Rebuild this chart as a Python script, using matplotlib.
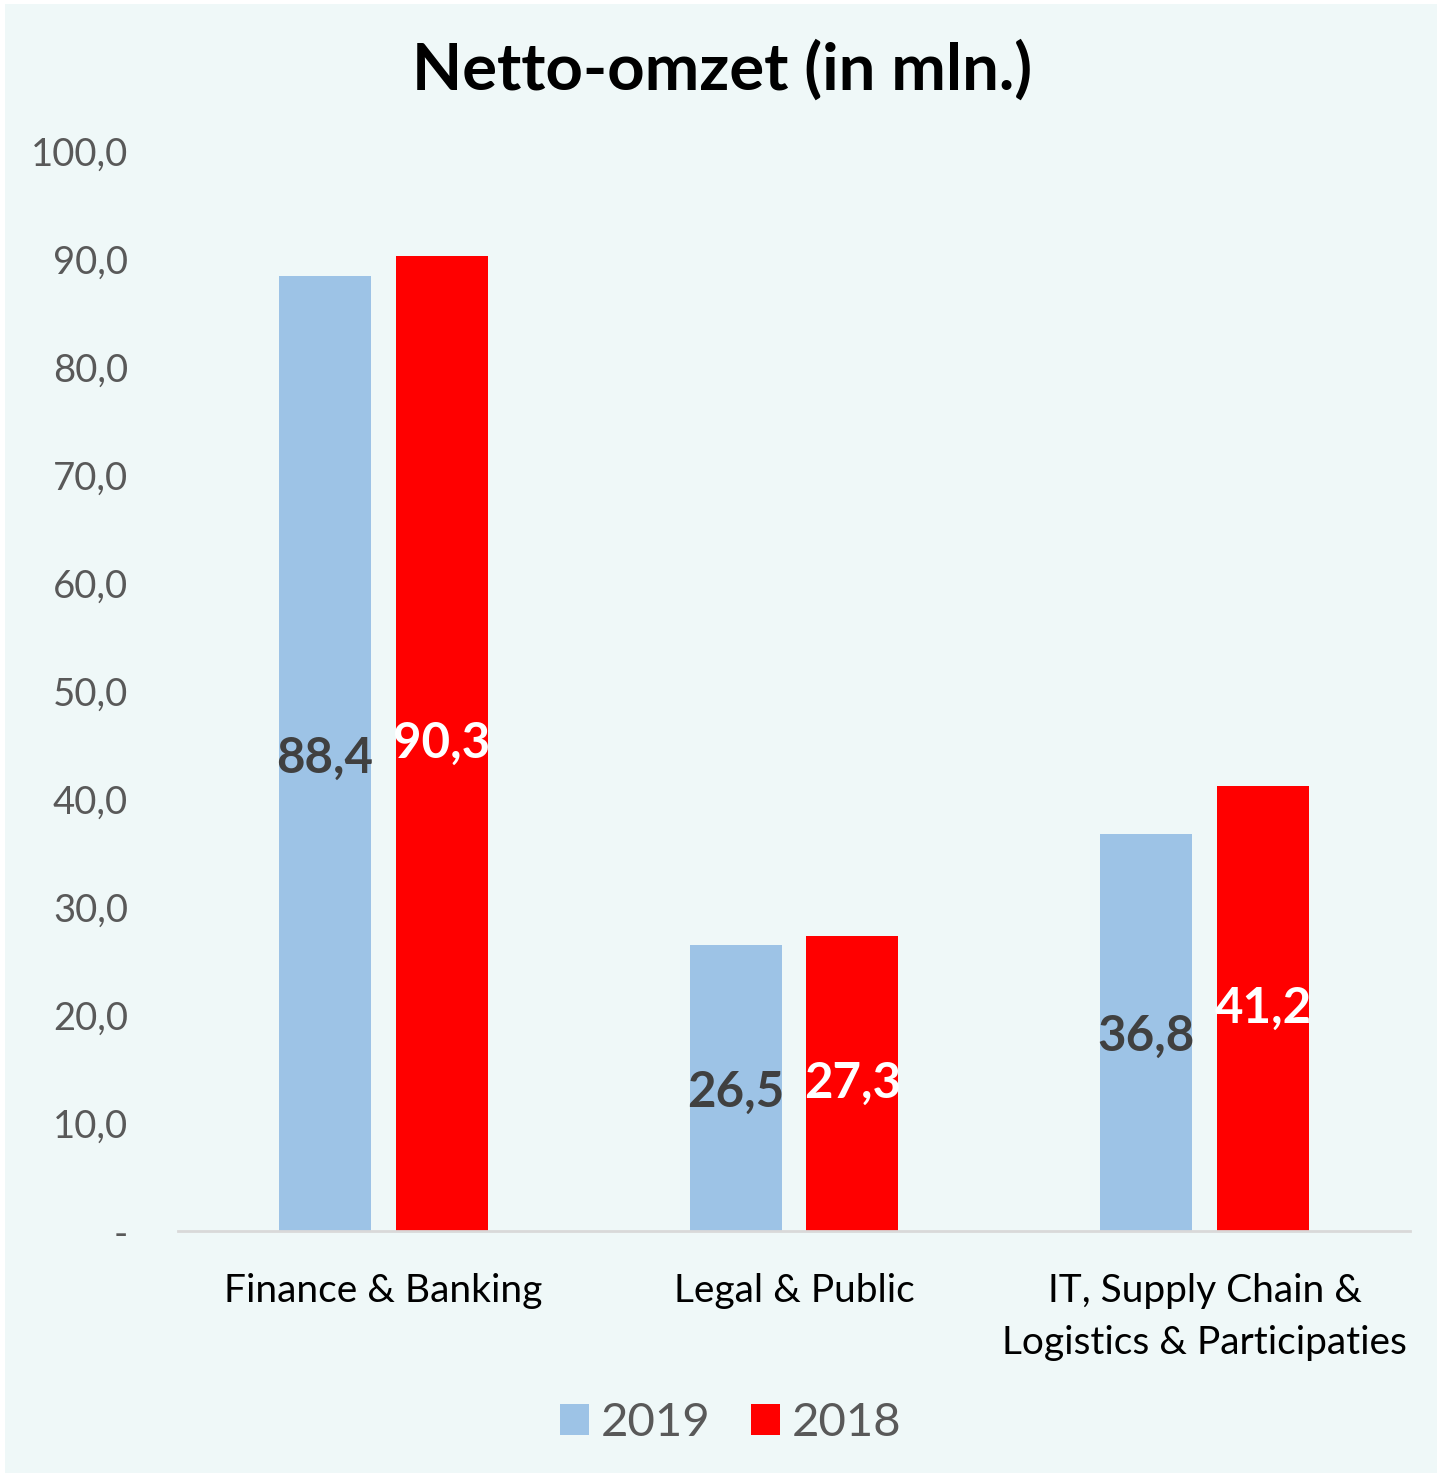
import numpy as np
import matplotlib.pyplot as plt
from matplotlib.patches import Rectangle, Patch

plt.rcParams['font.family'] = ['Lato', 'DejaVu Sans']

categories = ["Finance & Banking", "Legal & Public", "IT, Supply Chain &\nLogistics & Participaties"]
omzet_2019 = [88.4, 26.5, 36.8]
omzet_2018 = [90.3, 27.3, 41.2]
years = ["2019", "2018"]
yticks = [0, 10, 20, 30, 40, 50, 60, 70, 80, 90, 100]

blue = "#9DC3E6"
red = "#FF0000"
bg = "#EFF8F8"

W, H = 1440, 1474
fig = plt.figure(figsize=(W / 100, H / 100), dpi=100, facecolor="white")
fig.add_artist(Rectangle((5 / W, 1 / H), 1432 / W, 1469 / H, transform=fig.transFigure,
                         facecolor=bg, edgecolor="none", zorder=-10))

ax = fig.add_axes([178 / W, (H - 1231) / H, 1232 / W, 1080 / H])
ax.set_facecolor("none")

x = np.arange(len(categories))
bw = 0.224
off = 0.142
ax.bar(x - off, omzet_2019, bw, color=blue, label=years[0])
ax.bar(x + off, omzet_2018, bw, color=red, label=years[1])

# data labels in the middle of each bar
for xi, v in zip(x, omzet_2019):
    ax.text(xi - off, v / 2 - 0.4, f"{v:.1f}".replace(".", ","), ha="center", va="center",
            fontsize=35.5, fontweight="bold", color="#404040")
for xi, v in zip(x, omzet_2018):
    ax.text(xi + off, v / 2, f"{v:.1f}".replace(".", ","), ha="center", va="center",
            fontsize=35.5, fontweight="bold", color="white")

ax.set_xlim(-0.5, 2.5)
ax.set_ylim(0, 100)
ax.set_yticks(yticks)
ax.set_yticklabels(["-" if t == 0 else f"{t:.1f}".replace(".", ",") for t in yticks])
ax.set_xticks(x)
ax.set_xticklabels(categories, linespacing=1.55)
ax.tick_params(axis="y", length=0, pad=36, labelsize=27.5, labelcolor="#595959")
ax.tick_params(axis="x", length=0, pad=30, labelsize=28, labelcolor="black")
for s in ["top", "right", "left"]:
    ax.spines[s].set_visible(False)
ax.spines["bottom"].set_color("#D9D9D9")
ax.spines["bottom"].set_linewidth(2)

fig.text(722 / W, (H - 70) / H, "Netto-omzet (in mln.)", ha="center", va="center",
         fontsize=47, fontweight="bold", color="black")

handles = [Patch(facecolor=blue), Patch(facecolor=red)]
fig.legend(handles, years, loc="center", bbox_to_anchor=(731 / W, (H - 1423) / H),
           ncol=2, frameon=False, fontsize=34, labelcolor="#595959",
           handlelength=0.62, handleheight=0.62, handletextpad=0.25, columnspacing=0.85)

fig.savefig("out.png", dpi=100, facecolor="white")
